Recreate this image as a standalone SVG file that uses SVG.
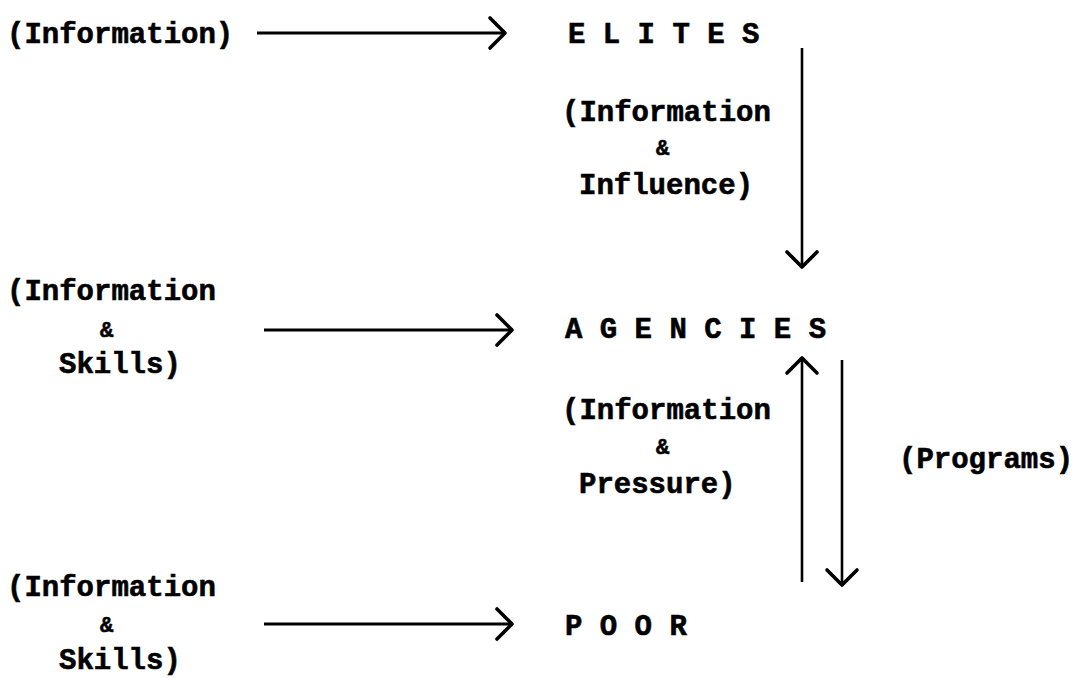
<svg xmlns="http://www.w3.org/2000/svg" width="1082" height="678" viewBox="0 0 1082 678">
  <defs>
    <style>
      .t { font-family: "Liberation Mono", "DejaVu Sans Mono", monospace; font-weight: bold; font-size: 29px; fill: #000; stroke: #000; stroke-width: 0.6px; }
      .amp { font-size: 22px; }
      .ln { stroke: #000; fill: none; stroke-width: 3; }
      .vl { stroke: #000; fill: none; stroke-width: 2.6; }
    </style>
    <marker id="head" markerUnits="userSpaceOnUse" markerWidth="22" markerHeight="36" refX="17" refY="17" orient="auto" overflow="visible">
      <path d="M2,2 L17,17 L2,32" fill="none" stroke="#000" stroke-width="3.6" stroke-linecap="round" stroke-linejoin="round"/>
    </marker>
  </defs>
  <rect width="1082" height="678" fill="#fff"/>

  <g id="connectors">
    <line class="ln" x1="257" y1="33" x2="505" y2="33" marker-end="url(#head)"/>
    <line class="ln" x1="264" y1="330" x2="512" y2="330" marker-end="url(#head)"/>
    <line class="ln" x1="264" y1="624" x2="512" y2="624" marker-end="url(#head)"/>
    <line class="vl" x1="802" y1="48" x2="802" y2="267" marker-end="url(#head)"/>
    <line class="vl" x1="802" y1="582" x2="802" y2="358" marker-end="url(#head)"/>
    <line class="vl" x1="842" y1="360" x2="842" y2="585" marker-end="url(#head)"/>
  </g>

  <g id="elites">
    <text class="t" x="568" y="43" xml:space="preserve">E L I T E S</text>
  </g>
  <g id="agencies">
    <text class="t" x="565" y="338" xml:space="preserve">A G E N C I E S</text>
  </g>
  <g id="poor">
    <text class="t" x="565" y="635" xml:space="preserve">P O O R</text>
  </g>

  <g id="label-info-elites">
    <text class="t" x="7" y="43">(Information)</text>
  </g>
  <g id="label-info-skills-agencies">
    <text class="t" x="7" y="300">(Information</text>
    <text class="t amp" x="100" y="337">&amp;</text>
    <text class="t" x="59" y="373">Skills)</text>
  </g>
  <g id="label-info-skills-poor">
    <text class="t" x="7" y="596">(Information</text>
    <text class="t amp" x="100" y="632">&amp;</text>
    <text class="t" x="59" y="669">Skills)</text>
  </g>
  <g id="label-info-influence">
    <text class="t" x="562" y="121">(Information</text>
    <text class="t amp" x="656" y="155">&amp;</text>
    <text class="t" x="579" y="194">Influence)</text>
  </g>
  <g id="label-info-pressure">
    <text class="t" x="562" y="419">(Information</text>
    <text class="t amp" x="656" y="454">&amp;</text>
    <text class="t" x="579" y="493">Pressure)</text>
  </g>
  <g id="label-programs">
    <text class="t" x="899" y="468">(Programs)</text>
  </g>
</svg>
